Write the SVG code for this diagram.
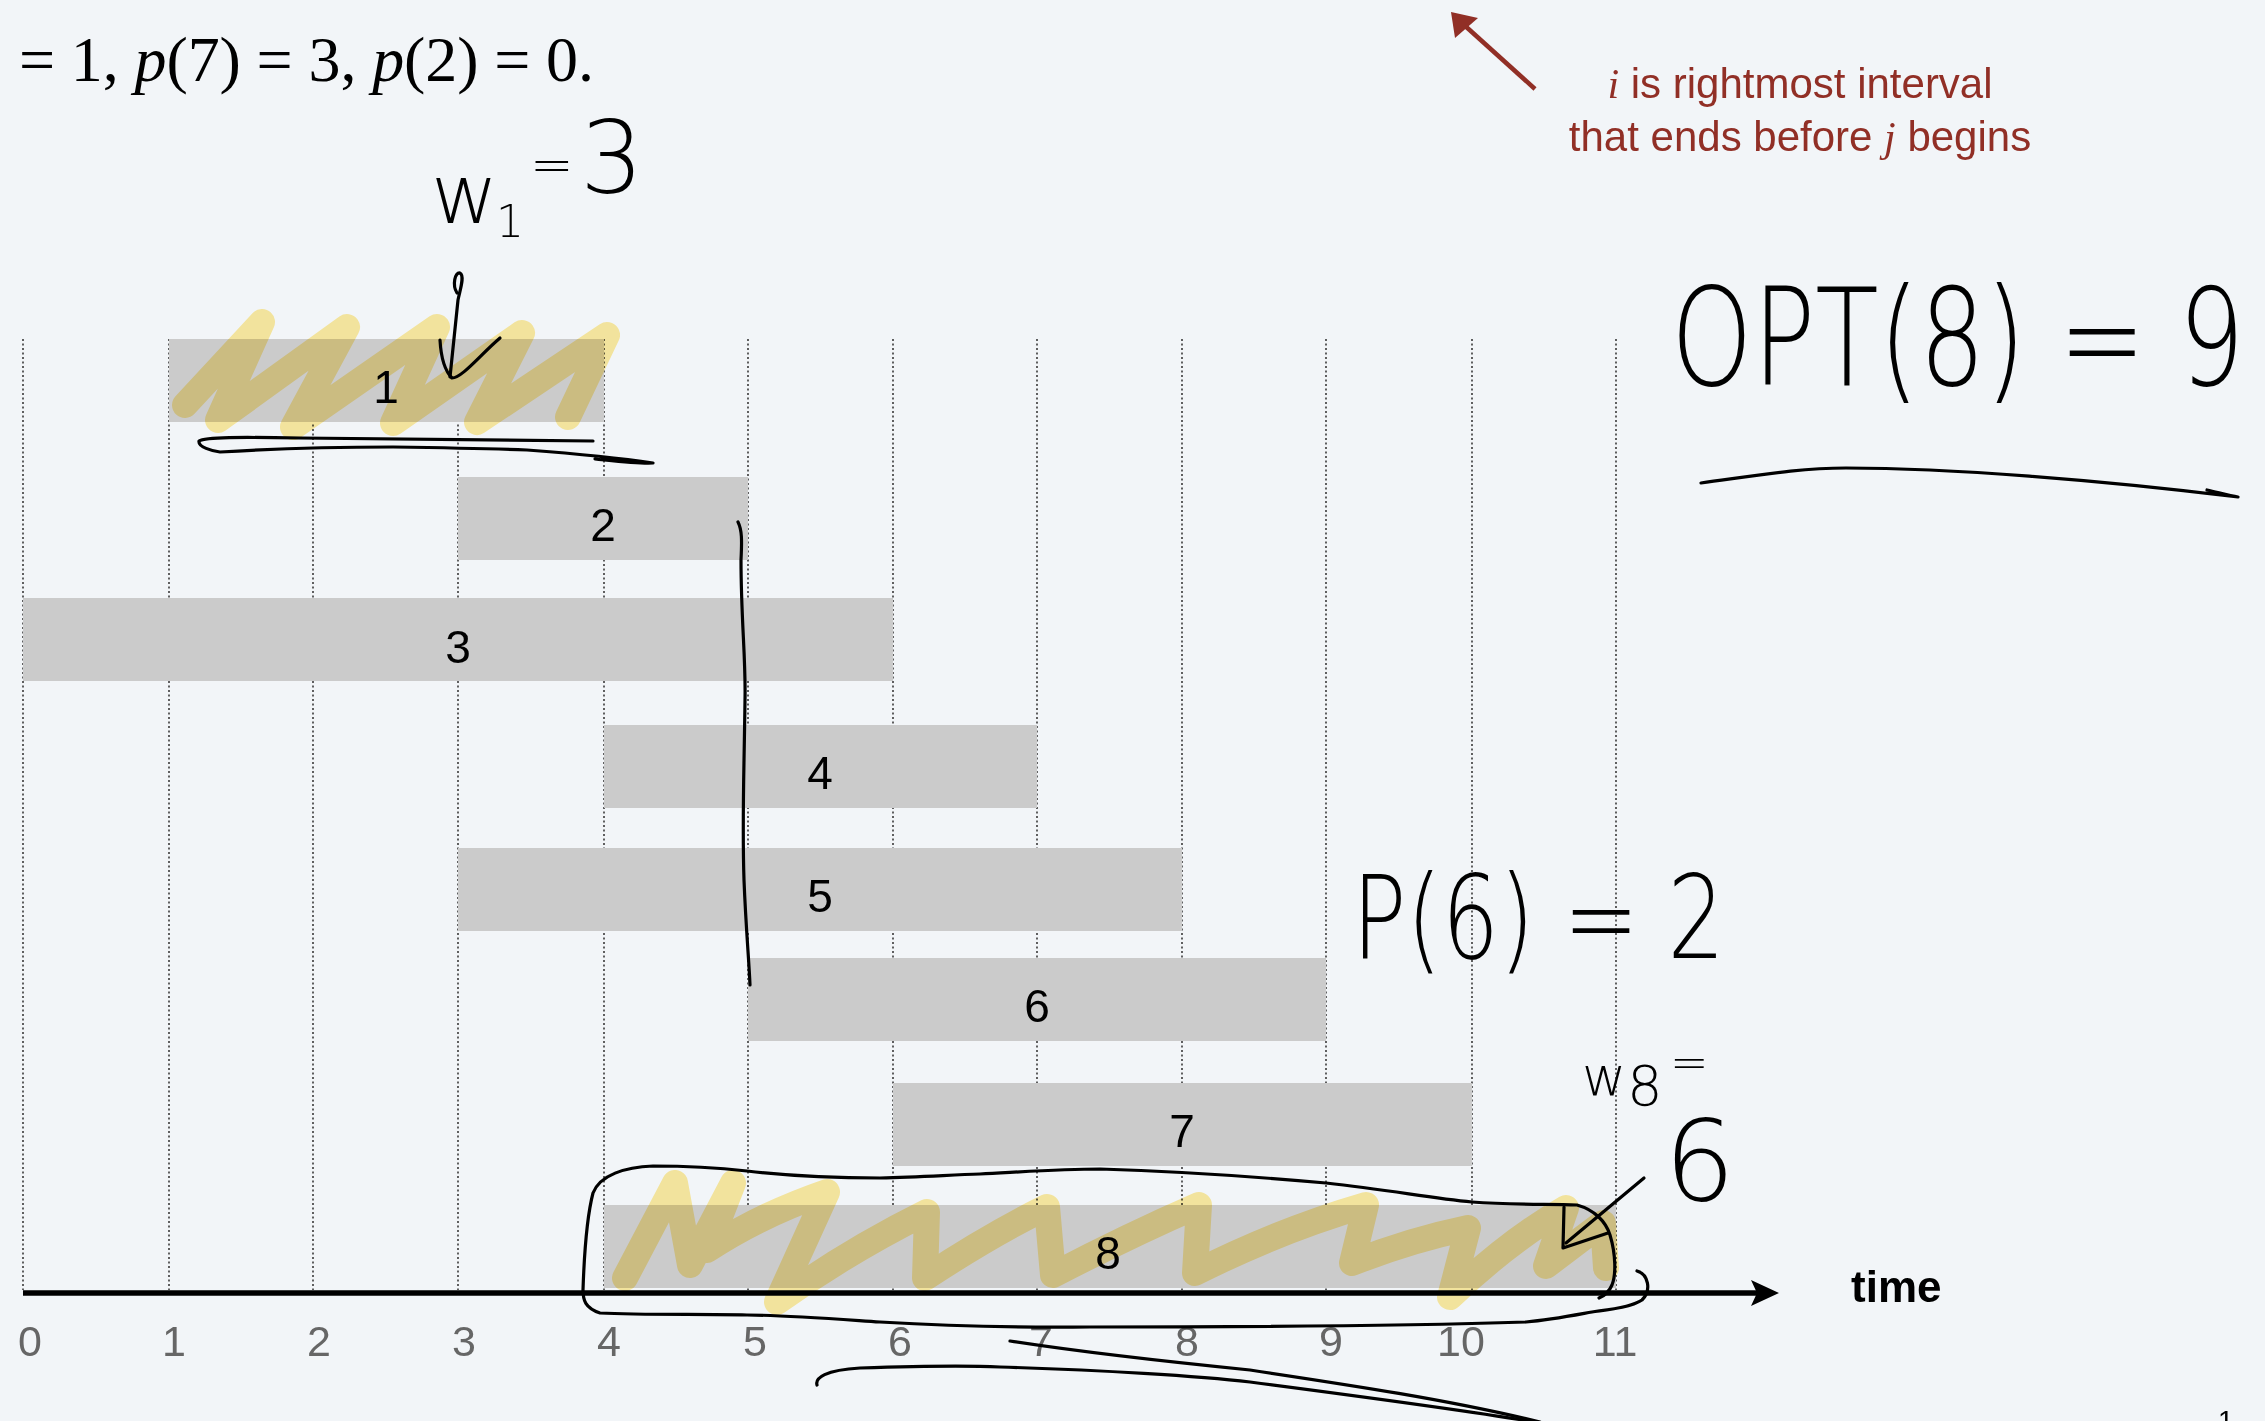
<svg xmlns="http://www.w3.org/2000/svg" width="2265" height="1421" viewBox="0 0 2265 1421">
<style>
.grid{stroke:#3a3a3a;stroke-width:1.6;stroke-dasharray:2 2.5}
.bar{fill:#cbcbcb}
.blabel{font-family:"Liberation Sans",Arial,sans-serif;font-size:46px;fill:#000;text-anchor:middle}
.tick{font-family:"Liberation Sans",Arial,sans-serif;font-size:43px;fill:#666;text-anchor:middle}
.red{font-family:"Liberation Sans",Arial,sans-serif;font-size:42px;fill:#912f26;text-anchor:middle}
.it{font-family:"Liberation Serif","Times New Roman",serif;font-style:italic}
.hl{fill:none;stroke:#ffeda2;stroke-width:26;stroke-linecap:round;stroke-linejoin:round;mix-blend-mode:multiply}
.ink{fill:none;stroke:#000;stroke-width:3.2;stroke-linecap:round;stroke-linejoin:round}
.hw{font-family:"DejaVu Sans","Noto Sans",sans-serif;font-weight:200;fill:#000}
</style>
<rect width="2265" height="1421" fill="#f2f5f8"/>

<text x="19" y="81" font-family="Liberation Serif,'Times New Roman',serif" font-size="64" textLength="575" lengthAdjust="spacing">= 1, <tspan font-style="italic">p</tspan>(7) = 3, <tspan font-style="italic">p</tspan>(2) = 0.</text>

<g id="grid">
<line class="grid" x1="23" y1="339" x2="23" y2="1290"/>
<line class="grid" x1="169" y1="339" x2="169" y2="1290"/>
<line class="grid" x1="313" y1="339" x2="313" y2="1290"/>
<line class="grid" x1="458" y1="339" x2="458" y2="1290"/>
<line class="grid" x1="604" y1="339" x2="604" y2="1290"/>
<line class="grid" x1="748" y1="339" x2="748" y2="1290"/>
<line class="grid" x1="893" y1="339" x2="893" y2="1290"/>
<line class="grid" x1="1037" y1="339" x2="1037" y2="1290"/>
<line class="grid" x1="1182" y1="339" x2="1182" y2="1290"/>
<line class="grid" x1="1326" y1="339" x2="1326" y2="1290"/>
<line class="grid" x1="1472" y1="339" x2="1472" y2="1290"/>
<line class="grid" x1="1616" y1="339" x2="1616" y2="1290"/>
</g>

<g id="interval-1"><rect class="bar" x="169" y="339" width="435" height="83"/><text class="blabel" x="386" y="403">1</text></g>
<g id="interval-2"><rect class="bar" x="458" y="477" width="290" height="83"/><text class="blabel" x="603" y="541">2</text></g>
<g id="interval-3"><rect class="bar" x="23" y="598" width="870" height="83"/><text class="blabel" x="458" y="663">3</text></g>
<g id="interval-4"><rect class="bar" x="604" y="725" width="433" height="83"/><text class="blabel" x="820" y="789">4</text></g>
<g id="interval-5"><rect class="bar" x="458" y="848" width="724" height="83"/><text class="blabel" x="820" y="912">5</text></g>
<g id="interval-6"><rect class="bar" x="748" y="958" width="578" height="83"/><text class="blabel" x="1037" y="1022">6</text></g>
<g id="interval-7"><rect class="bar" x="893" y="1083" width="579" height="83"/><text class="blabel" x="1182" y="1147">7</text></g>
<g id="interval-8"><rect class="bar" x="604" y="1205" width="1012" height="83"/><text class="blabel" x="1108" y="1269">8</text></g>

<g id="axis">
<line x1="23" y1="1293" x2="1760" y2="1293" stroke="#000" stroke-width="5.5"/>
<polygon points="1779,1293 1751,1280 1757,1293 1751,1306" fill="#000"/>
<text x="1851" y="1302" font-family="Liberation Sans,Arial,sans-serif" font-size="44" font-weight="bold">time</text>
<text class="tick" x="30" y="1356">0</text>
<text class="tick" x="174" y="1356">1</text>
<text class="tick" x="319" y="1356">2</text>
<text class="tick" x="464" y="1356">3</text>
<text class="tick" x="609" y="1356">4</text>
<text class="tick" x="755" y="1356">5</text>
<text class="tick" x="900" y="1356">6</text>
<text class="tick" x="1041" y="1356">7</text>
<text class="tick" x="1187" y="1356">8</text>
<text class="tick" x="1331" y="1356">9</text>
<text class="tick" x="1461" y="1356">10</text>
<text class="tick" x="1615" y="1356">11</text>
</g>

<g id="note">
<line x1="1535" y1="89" x2="1463" y2="24" stroke="#912f26" stroke-width="4.5"/>
<polygon points="1451,12 1455,38 1478,18" fill="#912f26"/>
<text class="red" x="1800" y="98"><tspan class="it">i</tspan> is rightmost interval</text>
<text class="red" x="1800" y="151">that ends before <tspan class="it">j</tspan> begins</text>
</g>

<g id="highlights">
<polyline class="hl" points="185,405 262,322 218,420 347,327 293,427 437,327 393,423 522,333 477,422 607,335 568,417"/>
<path class="hl" d="M625,1278 L675,1183 L690,1265 L733,1183 L707,1250 Q760,1215 827,1192 L777,1302 Q850,1250 927,1212 L925,1278 Q990,1235 1047,1207 L1053,1275 Q1130,1235 1199,1205 L1195,1273 Q1280,1230 1366,1205 L1352,1263 Q1410,1240 1468,1228 L1450,1297 Q1510,1240 1566,1208 L1546,1266 Q1580,1240 1603,1223 L1606,1268"/>
</g>

<g id="connectors">
<path class="ink" d="M457,293 C452,285 455,272 460,273 C465,276 460,290 458,300 L450,377"/>
<path class="ink" d="M440,340 C441,358 444,370 452,378 C462,378 480,355 500,338"/>
<path class="ink" d="M593,441 L300,438 C240,437 205,437 199,441 C198,447 212,451 220,452 C300,447 360,447 393,447 C460,448 500,449 527,450 C580,454 620,458 653,463 C640,464 615,461 595,459"/>
<path class="ink" d="M738,522 C742,530 742,540 741,560 C741,620 746,660 745,700 C744,780 742,820 744,880 C746,930 749,960 750,985"/>
<path class="ink" d="M1637,1271 C1648,1274 1652,1290 1642,1300 C1630,1308 1605,1310 1592,1312 C1570,1316 1550,1320 1526,1322 C1400,1326 1200,1327 1090,1327 C1000,1328 930,1325 880,1322 C820,1318 780,1315 747,1315 C700,1314 640,1315 600,1313 C585,1308 583,1300 583,1290 C584,1260 586,1220 593,1193 C600,1175 625,1167 653,1166 C690,1166 720,1168 747,1171 C790,1176 840,1178 880,1178 C920,1177 950,1175 980,1174 C1020,1172 1060,1169 1100,1169 C1200,1172 1270,1178 1326,1183 C1390,1190 1430,1198 1472,1202 C1510,1205 1545,1204 1577,1205 C1595,1210 1606,1222 1610,1235 C1616,1255 1616,1275 1612,1285 C1609,1292 1604,1296 1599,1298"/>
<path class="ink" d="M1644,1178 L1566,1243"/>
<path class="ink" d="M1564,1207 L1563,1248 L1608,1233"/>
<path class="ink" d="M817,1385 C815,1378 825,1370 860,1368 C920,1366 980,1366 1000,1367 C1100,1370 1200,1376 1250,1382 C1350,1395 1450,1408 1535,1422"/>
<path class="ink" d="M1010,1341 C1100,1355 1200,1365 1250,1370 C1350,1385 1450,1400 1540,1422"/>
<path class="ink" d="M1701,483 C1760,475 1800,468 1846,468 C1950,468 2100,480 2238,497 M2207,490 C2220,493 2230,496 2238,497"/>
</g>

<g id="handwriting">
<text class="hw"><tspan x="431" y="223" font-size="82">w</tspan><tspan x="496" y="237" font-size="44">1</tspan><tspan x="530" y="182" font-size="52">=</tspan><tspan x="580" y="193" font-size="100">3</tspan></text>
<text class="hw" transform="translate(1671,385) scale(0.97,1.26)" x="0" y="0" font-size="107">OPT(8) = 9</text>
<text class="hw" x="1352" y="958" font-size="115" textLength="373" lengthAdjust="spacingAndGlyphs">P(6) = 2</text>
<text class="hw" x="1582" y="1095" font-size="54">w</text>
<text class="hw" x="1627" y="1105" font-size="56">8</text>
<text class="hw" x="1670" y="1078" font-size="46">=</text>
<text class="hw" x="1664" y="1200" font-size="112">6</text>
</g>

<text x="2218" y="1430" font-family="Liberation Sans,Arial,sans-serif" font-size="28" fill="#000">1</text>
</svg>
